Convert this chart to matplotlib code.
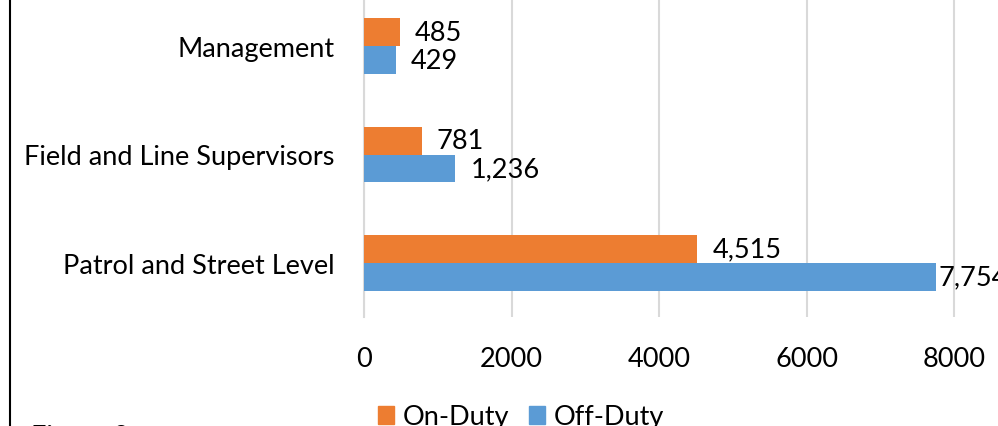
import matplotlib
matplotlib.use('Agg')
import matplotlib.pyplot as plt
from matplotlib.lines import Line2D
from matplotlib.patches import Patch
import numpy as np

categories = ['Patrol and Street Level', 'Field and Line Supervisors', 'Management']
on_duty = [4515, 781, 485]
off_duty = [7754, 1236, 429]
xticks = [0, 2000, 4000, 6000, 8000]

ORANGE = '#ED7D31'
BLUE = '#5B9BD5'
GRID = '#D9D9D9'
FS = 19.5

plt.rcParams['font.family'] = ['Lato', 'DejaVu Sans']

fig = plt.figure(figsize=(9.98, 4.27), dpi=100)
# plot area runs past the right and top edges of the picture
ax = fig.add_axes([364 / 998, 109 / 427, 664 / 998, 325 / 427])

y = np.arange(len(categories))
h = 0.258
bars_on = ax.barh(y + h / 2, on_duty, height=h, color=ORANGE, zorder=3)
bars_off = ax.barh(y - h / 2, off_duty, height=h, color=BLUE, zorder=3)

def label_bars(bars, values):
    for b, v in zip(bars, values):
        # the last label gets pushed back against the chart edge
        off = 2 if v > 7000 else 11
        ax.annotate(f'{v:,}', (b.get_width(), b.get_y() + b.get_height() / 2),
                    xytext=(off, 0), textcoords='offset points',
                    va='center', ha='left', fontsize=FS, color='black',
                    annotation_clip=False)

label_bars(bars_on, on_duty)
label_bars(bars_off, off_duty)

ax.set_xlim(0, 9000)
ax.set_ylim(-0.5, len(categories) - 0.5)
ax.set_xticks(xticks)
ax.set_xticklabels([str(t) for t in xticks])
ax.set_yticks(y)
ax.set_yticklabels(categories)
ax.tick_params(axis='both', length=0, labelsize=FS)
ax.tick_params(axis='x', pad=21)
ax.tick_params(axis='y', pad=21)
ax.grid(axis='x', color=GRID, linewidth=1.5, zorder=0)
for s in ['top', 'right', 'bottom']:
    ax.spines[s].set_visible(False)
ax.spines['left'].set_color(GRID)
ax.spines['left'].set_linewidth(1.5)

handles = [Patch(color=ORANGE, label='On-Duty'), Patch(color=BLUE, label='Off-Duty')]
fig.legend(handles=handles, loc='center left', bbox_to_anchor=(378 / 998, 9 / 427),
           ncol=2, frameon=False, fontsize=FS, borderpad=0, borderaxespad=0,
           handlelength=0.6, handleheight=0.6, handletextpad=0.3,
           columnspacing=0.75)

# page frame line and caption cut off at the bottom
fig.add_artist(Line2D([10 / 998, 10 / 998], [0, 1], color='black', linewidth=1.5,
                      transform=fig.transFigure))
fig.text(31 / 998, -18 / 427, 'Figure 2', fontsize=FS, va='baseline', ha='left')

fig.savefig('out.png', dpi=100)
